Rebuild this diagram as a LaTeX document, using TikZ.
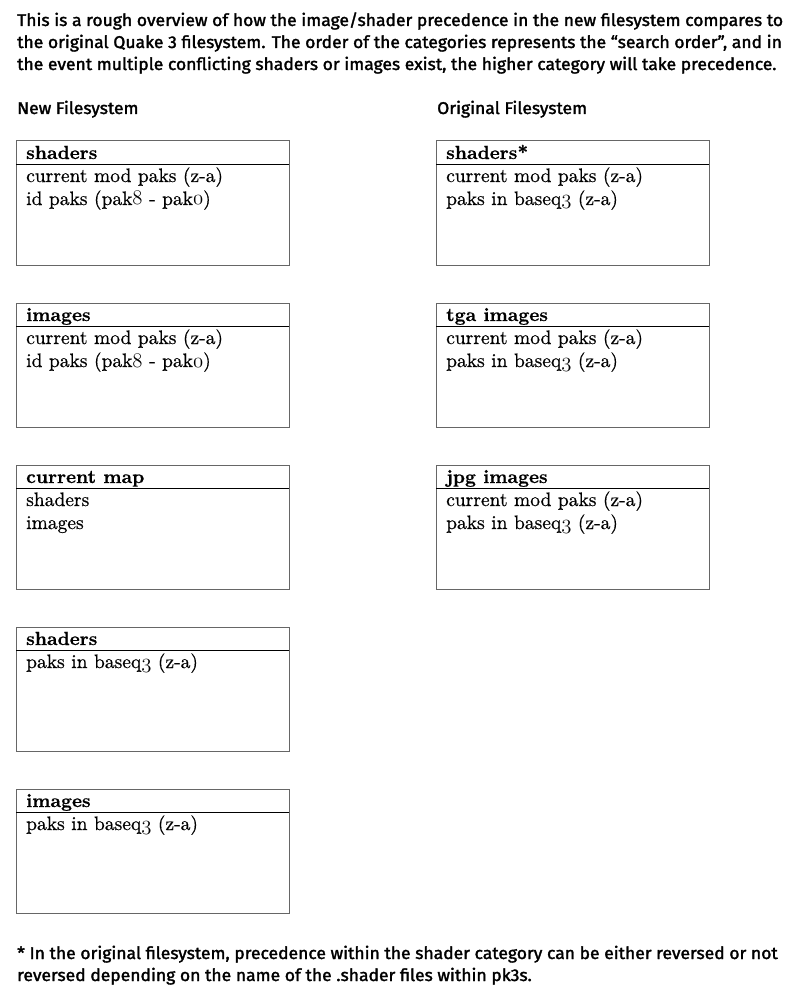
\documentclass[tikz,border=0pt]{standalone}
\usepackage{fontspec}
\newfontfamily\notefont[FakeStretch=1.03,FakeBold=1.8]{Fira Sans}
\newfontfamily\boxfont[FakeBold=0.6,BoldFont=lmroman10-bold.otf]{lmroman10-regular.otf}
\usepackage{tikz}
\newcommand{\osn}[1]{{\usefont{OML}{cmm}{m}{it}#1}}
\tikzset{
  boxline/.style = {draw=black!60, line width=1pt},
  sepline/.style = {draw=black, line width=1pt},
  note/.style = {anchor=base west, inner sep=0pt, font=\notefont\fontsize{17}{22}\selectfont},
  boxtitle/.style = {anchor=base west, inner sep=0pt, font=\boxfont\fontsize{19}{23}\selectfont\bfseries},
  boxbody/.style = {anchor=base west, inner sep=0pt, font=\boxfont\fontsize{19.5}{23}\selectfont}
}

\begin{document}
\begin{tikzpicture}[x=1pt,y=-1pt]
  \useasboundingbox (0,0) rectangle (800,1000);
  %%% intro text
  \foreach \txt [count=\i] in {
    {This is a rough overview of how the image/shader precedence in the new filesystem compares to},
    {the original Quake 3 filesystem. The order of the categories represents the “search order”, and in},
    {the event multiple conflicting shaders or images exist, the higher category will take precedence.}} {
    \node[note] (intro-\i) at (17,4+22*\i) {\txt};
  }
  \node[note] (newfs) at (17,114) {New Filesystem};
  \node[note] (origfs) at (437,114) {Original Filesystem};
  %%% boxes
  \foreach \bx/\by/\nm/\ttl in {
    16/141/n1/shaders, 16/303/n2/images, 16/465/n3/current map,
    16/627/n4/shaders, 16/789/n5/images,
    436/141/o1/shaders*, 436/303/o2/tga images, 436/465/o3/jpg images} {
    \draw[boxline] (\bx,\by) rectangle (\bx+273,\by+124);
    \draw[sepline] (\bx,\by+23.5) -- (\bx+273,\by+23.5);
    \node[boxtitle] (\nm) at (\bx+10,\by+18) {\ttl};
  }
  %%% box contents
  \foreach \nm/\k/\txt in {
    n1/1/{current mod paks (z-a)}, n1/2/{id paks (pak\osn{8} - pak\osn{0})},
    n2/1/{current mod paks (z-a)}, n2/2/{id paks (pak\osn{8} - pak\osn{0})},
    n3/1/{shaders}, n3/2/{images},
    n4/1/{paks in baseq\osn{3} (z-a)},
    n5/1/{paks in baseq\osn{3} (z-a)},
    o1/1/{current mod paks (z-a)}, o1/2/{paks in baseq\osn{3} (z-a)},
    o2/1/{current mod paks (z-a)}, o2/2/{paks in baseq\osn{3} (z-a)},
    o3/1/{current mod paks (z-a)}, o3/2/{paks in baseq\osn{3} (z-a)}} {
    \node[boxbody] (\nm-\k) at ([yshift={-23pt*\k}]\nm.base west) {\txt};
  }
  %%% footnote
  \node[note] (foot-1) at (17,959) {* In the original filesystem, precedence within the shader category can be either reversed or not};
  \node[note] (foot-2) at (17,981) {reversed depending on the name of the .shader files within pk3s.};
\end{tikzpicture}
\end{document}
